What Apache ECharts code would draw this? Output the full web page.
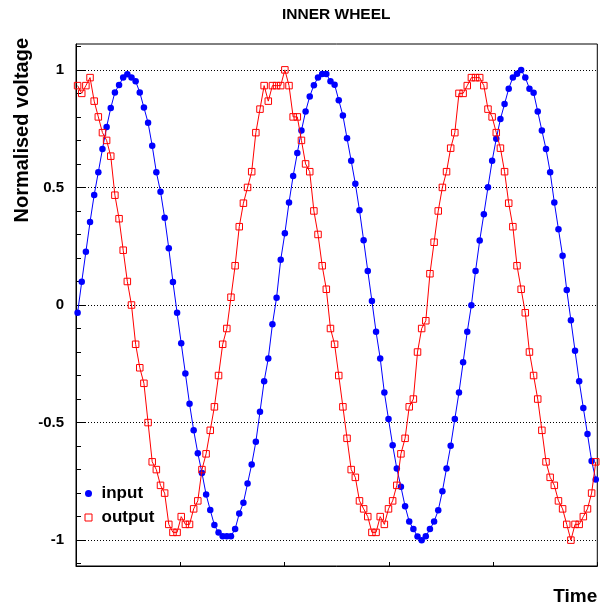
<!DOCTYPE html>
<html>
<head>
<meta charset="utf-8">
<title>INNER WHEEL</title>
<script src="https://cdn.jsdelivr.net/npm/echarts@6/dist/echarts.min.js"></script>
<style>
  html, body { margin: 0; padding: 0; background: #fff; }
  #chart { width: 601px; height: 613px; }
</style>
</head>
<body>
<div id="chart"></div>
<script>
// Sampling of the recorded signals (time units on the horizontal axis)
const startTime = 0.0153;
const sampleStep = 0.03976;

// Normalised input voltage, one value per sample
const inputVoltage = [
  -0.033, 0.099, 0.226, 0.353, 0.468, 0.565, 0.663, 0.757, 0.838, 0.904,
  0.936, 0.967, 0.981, 0.967, 0.952, 0.904, 0.840, 0.775, 0.677, 0.565,
  0.482, 0.371, 0.241, 0.098, -0.033, -0.163, -0.291, -0.420, -0.533, -0.630,
  -0.714, -0.806, -0.872, -0.936, -0.968, -0.983, -0.983, -0.983, -0.953, -0.887,
  -0.841, -0.759, -0.678, -0.582, -0.454, -0.324, -0.227, -0.082, 0.031, 0.192,
  0.305, 0.436, 0.549, 0.646, 0.742, 0.823, 0.887, 0.935, 0.968, 0.982,
  0.982, 0.952, 0.937, 0.871, 0.806, 0.709, 0.613, 0.516, 0.403, 0.275,
  0.145, 0.017, -0.114, -0.227, -0.372, -0.485, -0.596, -0.695, -0.773, -0.856,
  -0.921, -0.953, -0.985, -1.000, -0.984, -0.953, -0.921, -0.873, -0.792, -0.695,
  -0.599, -0.485, -0.372, -0.244, -0.114, -0.001, 0.145, 0.274, 0.386, 0.501,
  0.613, 0.707, 0.791, 0.855, 0.920, 0.968, 0.984, 0.999, 0.968, 0.920,
  0.903, 0.823, 0.742, 0.663, 0.565, 0.436, 0.322, 0.209, 0.064, -0.065,
  -0.195, -0.324, -0.438, -0.549, -0.663, -0.742
];

// Normalised output voltage, one value per sample
const outputVoltage = [
  0.933, 0.900, 0.933, 0.967, 0.867, 0.800, 0.733, 0.700, 0.633, 0.467,
  0.367, 0.233, 0.100, 0.000, -0.167, -0.267, -0.333, -0.500, -0.667, -0.700,
  -0.767, -0.800, -0.933, -0.967, -0.967, -0.900, -0.933, -0.933, -0.867, -0.833,
  -0.700, -0.633, -0.533, -0.433, -0.300, -0.167, -0.100, 0.033, 0.167, 0.333,
  0.433, 0.500, 0.567, 0.733, 0.833, 0.933, 0.867, 0.933, 0.933, 0.933,
  1.000, 0.933, 0.800, 0.800, 0.700, 0.600, 0.567, 0.400, 0.300, 0.167,
  0.067, -0.100, -0.167, -0.300, -0.433, -0.567, -0.700, -0.733, -0.833, -0.867,
  -0.900, -0.967, -0.967, -0.900, -0.933, -0.867, -0.833, -0.767, -0.633, -0.567,
  -0.433, -0.400, -0.200, -0.100, -0.067, 0.133, 0.267, 0.400, 0.500, 0.567,
  0.667, 0.733, 0.900, 0.900, 0.933, 0.967, 0.967, 0.967, 0.933, 0.833,
  0.800, 0.733, 0.667, 0.567, 0.433, 0.333, 0.167, 0.067, -0.033, -0.200,
  -0.300, -0.400, -0.533, -0.667, -0.733, -0.767, -0.833, -0.867, -0.933, -1.000,
  -0.933, -0.933, -0.900, -0.867, -0.800, -0.667
];

// Tick values on the voltage axis
const majorTicks = [-1, -0.5, 0, 0.5, 1];
const minorTicks = [-1.1, -1.0, -0.9, -0.8, -0.7, -0.6, -0.5, -0.4, -0.3, -0.2, -0.1, 0,
                    0.1, 0.2, 0.3, 0.4, 0.5, 0.6, 0.7, 0.8, 0.9, 1.0, 1.1];

const seriesNames = ['input', 'output'];

const FONT = '"Liberation Sans", Arial, Helvetica, sans-serif';

function toPairs(values) {
  return values.map((v, i) => [startTime + i * sampleStep, v]);
}

const chart = echarts.init(document.getElementById('chart'), null, { renderer: 'canvas' });

chart.setOption({
  animation: false,
  backgroundColor: '#fff',
  title: {
    text: 'INNER WHEEL',
    left: 277,
    top: 2,
    textStyle: { fontFamily: FONT, fontWeight: 'bold', fontSize: 15.5, color: '#000' }
  },
  legend: {
    orient: 'vertical',
    left: 79.5,
    top: 480,
    itemWidth: 7,
    itemHeight: 7,
    itemGap: 7,
    selectedMode: false,
    textStyle: {
      fontFamily: FONT, fontWeight: 'bold', fontSize: 17, color: '#000',
      lineHeight: 17, padding: [0, 0, 0, 4.5]
    },
    data: [
      { name: seriesNames[0], icon: 'circle', itemStyle: { color: '#0000ff', borderWidth: 0 } },
      { name: seriesNames[1], icon: 'rect', itemStyle: { color: '#ffffff', borderColor: '#ff0000', borderWidth: 1 } }
    ]
  },
  grid: {
    left: 76,
    right: 3.7,
    top: 44,
    bottom: 47,
    show: true,
    borderColor: '#000',
    borderWidth: 1,
    containLabel: false
  },
  xAxis: {
    type: 'value',
    min: 0,
    max: 5,
    interval: 1,
    name: 'Time',
    nameLocation: 'end',
    nameGap: 0,
    nameTextStyle: {
      fontFamily: FONT, fontWeight: 'bold', fontSize: 19, color: '#000',
      align: 'right', verticalAlign: 'top', padding: [21, 0, 0, 0]
    },
    axisLine: { show: true, onZero: false, lineStyle: { color: '#000', width: 1 } },
    axisTick: { show: true, inside: true, length: 4, lineStyle: { color: '#000' } },
    axisLabel: { show: false },
    splitLine: { show: false }
  },
  yAxis: [
    {
      type: 'value',
      min: -1.11,
      max: 1.11,
      name: 'Normalised voltage',
      nameLocation: 'end',
      nameRotate: 90,
      nameGap: 6,
      nameTextStyle: {
        fontFamily: FONT, fontWeight: 'bold', fontSize: 20, color: '#000',
        align: 'right', verticalAlign: 'bottom', padding: [0, 0, 44, 0]
      },
      axisLine: { show: true, onZero: false, lineStyle: { color: '#000', width: 1 } },
      axisTick: { show: true, inside: true, length: 10, customValues: majorTicks, lineStyle: { color: '#000' } },
      axisLabel: {
        show: true,
        customValues: majorTicks,
        margin: 12,
        fontFamily: FONT, fontWeight: 'bold', fontSize: 15, color: '#000',
        formatter: v => String(v)
      },
      splitLine: { show: true, lineStyle: { color: '#000', width: 1, type: [1, 2] } }
    },
    {
      type: 'value',
      min: -1.11,
      max: 1.11,
      position: 'left',
      offset: 0,
      axisLine: { show: false },
      axisTick: { show: true, inside: true, length: 5, customValues: minorTicks, lineStyle: { color: '#000' } },
      axisLabel: { show: false },
      splitLine: { show: false }
    }
  ],
  series: [
    {
      name: seriesNames[0],
      type: 'line',
      xAxisIndex: 0,
      yAxisIndex: 0,
      data: toPairs(inputVoltage),
      symbol: 'circle',
      symbolSize: 6.5,
      showAllSymbol: true,
      lineStyle: { color: '#0000ff', width: 1 },
      itemStyle: { color: '#0000ff', borderWidth: 0 },
      z: 2
    },
    {
      name: seriesNames[1],
      type: 'line',
      xAxisIndex: 0,
      yAxisIndex: 0,
      data: toPairs(outputVoltage),
      symbol: 'rect',
      symbolSize: 6.5,
      showAllSymbol: true,
      lineStyle: { color: '#ff0000', width: 1 },
      itemStyle: { color: 'rgba(255,255,255,0)', borderColor: '#ff0000', borderWidth: 1 },
      z: 3
    }
  ]
});
</script>
</body>
</html>
